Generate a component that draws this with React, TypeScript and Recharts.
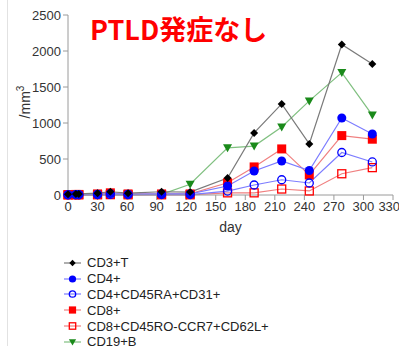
import React from "react";
import { LineChart, Line, XAxis, YAxis, Legend } from "recharts";

// ---- data ----
const days = [0, 8, 11, 30, 43, 61, 95, 124, 162, 189, 217, 245, 278, 309];
const cd3T = [10, 15, 15, 25, 45, 25, 45, 40, 236, 862, 1265, 709, 2090, 1820];
const cd4 = [5, 8, 8, 12, 20, 12, 15, 15, 125, 334, 473, 340, 1070, 848];
const cd4RA = [2, 3, 3, 5, 8, 5, 6, 6, 55, 139, 212, 167, 590, 459];
const cd8 = [5, 8, 8, 15, 30, 15, 15, 15, 170, 390, 640, 278, 825, 775];
const cd8RO = [1, 2, 2, 3, 5, 3, 3, 3, 30, 30, 83, 56, 295, 380];
const cd19B = [0, 1, 1, 2, 3, 2, 10, 150, 655, 680, 945, 1307, 1700, 1110];

const dayTicks = [0, 30, 60, 90, 120, 150, 180, 210, 240, 270, 300, 330];
const countTicks = [0, 500, 1000, 1500, 2000, 2500];

const FONT = "'Liberation Sans', Arial, sans-serif";

// legend order
const series = [
  { key: "cd3", name: "CD3+T", values: cd3T, line: "#7a7a7a", color: "#000000", shape: "diamond", open: false },
  { key: "cd4", name: "CD4+", values: cd4, line: "#7c7cff", color: "#0000ff", shape: "circle", open: false },
  { key: "cd4ra", name: "CD4+CD45RA+CD31+", values: cd4RA, line: "#7c7cff", color: "#0000ff", shape: "circle", open: true },
  { key: "cd8", name: "CD8+", values: cd8, line: "#f08080", color: "#ff0000", shape: "square", open: false },
  { key: "cd8ro", name: "CD8+CD45RO-CCR7+CD62L+", values: cd8RO, line: "#f08080", color: "#ff0000", shape: "square", open: true },
  { key: "cd19", name: "CD19+B", values: cd19B, line: "#80c080", color: "#1a8a1a", shape: "triangle", open: false },
];

// draw order (black on top)
const drawOrder = ["cd19", "cd8ro", "cd8", "cd4ra", "cd4", "cd3"];

const rows = days.map((d, i) => {
  const r: any = { day: d };
  series.forEach((s) => (r[s.key] = s.values[i]));
  return r;
});

const Marker = ({ cx, cy, shape, color, open, k = 1 }: any) => {
  if (cx == null || cy == null) return null;
  const sw = 1.3;
  if (shape === "diamond") {
    const h = 4 * k;
    return <polygon points={`${cx},${cy - h} ${cx + h},${cy} ${cx},${cy + h} ${cx - h},${cy}`} fill={color} />;
  }
  if (shape === "circle")
    return open ? (
      <circle cx={cx} cy={cy} r={4 * k} fill="none" stroke={color} strokeWidth={sw} />
    ) : (
      <circle cx={cx} cy={cy} r={4.5 * k} fill={color} />
    );
  if (shape === "square")
    return open ? (
      <rect x={cx - 4 * k} y={cy - 4 * k} width={8 * k} height={8 * k} fill="none" stroke={color} strokeWidth={sw} />
    ) : (
      <rect x={cx - 4.5 * k} y={cy - 4.5 * k} width={9 * k} height={9 * k} fill={color} />
    );
  const w = 4.5 * k;
  return <polygon points={`${cx - w},${cy - 3.5 * k} ${cx + w},${cy - 3.5 * k} ${cx},${cy + w}`} fill={color} />;
};

const LegendBox = () => (
  <div style={{ fontFamily: FONT, fontSize: 13, color: "#222" }}>
    {series.map((s) => (
      <div key={s.key} style={{ display: "flex", alignItems: "center", height: 15.8 }}>
        <svg width={26} height={14}>
          <line x1={4} y1={7} x2={21} y2={7} stroke={s.line} strokeWidth={1.2} />
          <Marker cx={12.5} cy={7} shape={s.shape} color={s.color} open={s.open} k={0.8} />
        </svg>
        <span style={{ marginLeft: 1 }}>{s.name}</span>
      </div>
    ))}
  </div>
);

const YLabel = () => (
  <text
    transform="translate(30,102) rotate(-90)"
    textAnchor="middle"
    fontFamily={FONT}
    fontSize={14}
    fill="#333"
  >
    /mm<tspan dy={-6} fontSize={10}>3</tspan>
  </text>
);

export default function App() {
  return (
    <div style={{ position: "absolute", left: 0, top: 0, width: 399, height: 346, background: "#fff", overflow: "hidden" }}>
      <div style={{ position: "absolute", left: 7, top: 0, width: 1, height: 346, background: "#e2e2e2" }} />
      <LineChart width={399} height={346} data={rows} margin={{ top: 15, right: 6, left: 0, bottom: 121 }}>
        <XAxis
          dataKey="day"
          type="number"
          domain={[0, 330]}
          ticks={dayTicks}
          height={30}
          stroke="#9a9a9a"
          tickSize={5}
          tick={{ fill: "#333", fontSize: 13, fontFamily: FONT }}
          label={{ value: "day", position: "bottom", offset: -3, fill: "#333", fontSize: 14, fontFamily: FONT }}
        />
        <YAxis
          type="number"
          domain={[0, 2500]}
          ticks={countTicks}
          width={68}
          stroke="#9a9a9a"
          tickSize={5}
          tickMargin={2}
          tick={{ fill: "#333", fontSize: 13, fontFamily: FONT }}
          label={{ content: () => <YLabel /> }}
        />
        {drawOrder.map((k) => {
          const s = series.find((x) => x.key === k)!;
          return (
            <Line
              key={s.key}
              dataKey={s.key}
              name={s.name}
              type="linear"
              stroke={s.line}
              strokeWidth={1.2}
              isAnimationActive={false}
              dot={(p: any) => (
                <Marker key={`${s.key}-${p.index}`} cx={p.cx} cy={p.cy} shape={s.shape} color={s.color} open={s.open} />
              )}
              activeDot={false}
            />
          );
        })}
        <Legend
          layout="vertical"
          align="center"
          verticalAlign="middle"
          wrapperStyle={{ left: 60, top: 255, width: 300 }}
          content={() => <LegendBox />}
        />
      </LineChart>
      <div
        style={{
          position: "absolute",
          left: 90,
          top: 15,
          fontFamily: "'Noto Sans CJK JP', sans-serif",
          fontWeight: 700,
          fontSize: 27,
          lineHeight: "27px",
          color: "#ff0000",
          whiteSpace: "nowrap",
        }}
      >
        PTLD発症なし
      </div>
    </div>
  );
}
